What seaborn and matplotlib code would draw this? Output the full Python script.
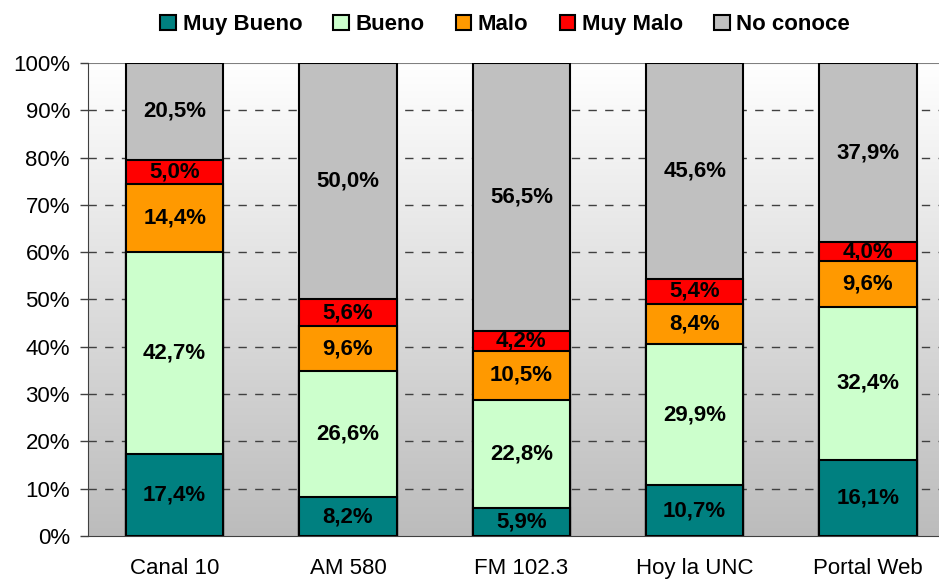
import numpy as np
import pandas as pd
import seaborn as sns
import matplotlib.pyplot as plt
from matplotlib.patches import Patch
from matplotlib.colors import LinearSegmentedColormap

medios = ['Canal 10', 'AM 580', 'FM 102.3', 'Hoy la UNC', 'Portal Web']
categorias = ['Muy Bueno', 'Bueno', 'Malo', 'Muy Malo', 'No conoce']
muy_bueno = [17.4, 8.2, 5.9, 10.7, 16.1]
bueno = [42.7, 26.6, 22.8, 29.9, 32.4]
malo = [14.4, 9.6, 10.5, 8.4, 9.6]
muy_malo = [5.0, 5.6, 4.2, 5.4, 4.0]
no_conoce = [20.5, 50.0, 56.5, 45.6, 37.9]
colores = ['#008080', '#CCFFCC', '#FF9900', '#FF0000', '#C0C0C0']

sns.set_style('white')
plt.rcParams['font.family'] = ['Liberation Sans', 'DejaVu Sans']
plt.rcParams['text.color'] = 'black'
plt.rcParams['xtick.color'] = 'black'
plt.rcParams['ytick.color'] = 'black'

df = pd.DataFrame({'Medio': medios, 'Muy Bueno': muy_bueno, 'Bueno': bueno,
                   'Malo': malo, 'Muy Malo': muy_malo, 'No conoce': no_conoce})
acum = df[categorias].cumsum(axis=1)

fig = plt.figure(figsize=(9.39, 5.79), dpi=100)
ax = fig.add_axes([0.0937, 0.0743, 0.923, 0.817])

# gradient background, white on top to gray at the bottom
fondo = LinearSegmentedColormap.from_list('fondo', ['#ffffff', '#bcbcbc'])
grad = np.linspace(0, 1, 256).reshape(-1, 1)
ax.imshow(grad, extent=(-0.5, 4.5, 0, 100), aspect='auto', cmap=fondo,
          origin='upper', zorder=0)

# stacked bars: draw cumulative totals from the top down
for i in range(len(categorias) - 1, -1, -1):
    sns.barplot(x=df['Medio'], y=acum[categorias[i]], color=colores[i],
                edgecolor='black', linewidth=1.5, width=0.56, ax=ax,
                zorder=3, saturation=1)

for j in range(len(medios)):
    base = 0
    for c in categorias:
        v = df.loc[j, c]
        ax.text(j, base + v / 2, f'{v:.1f}%'.replace('.', ','), ha='center',
                va='center', fontsize=16, fontweight='bold', color='black',
                zorder=5)
        base += v

ax.set_xlim(-0.5, 4.5)
ax.set_ylim(0, 100)
ax.set_yticks(range(0, 101, 10))
ax.set_yticklabels([f'{t}%' for t in range(0, 101, 10)], fontsize=16)
ax.set_xticks(range(len(medios)))
ax.set_xticklabels(medios, fontsize=16)
ax.set_xticks(np.arange(-0.5, 4.6, 1), minor=True)
ax.tick_params(axis='x', which='major', length=0, pad=16)
ax.tick_params(axis='x', which='minor', length=5, color='#404040', width=1)
ax.tick_params(axis='y', length=6, color='#404040', width=1, pad=7, left=True)
ax.set_xlabel('')
ax.set_ylabel('')
for t in range(10, 100, 10):
    ax.axhline(t, color='#404040', linestyle=(0, (6, 6)), linewidth=1, zorder=1)
ax.axhline(100, color='#808080', linewidth=1.5, zorder=1)
for s in ['top', 'right']:
    ax.spines[s].set_visible(False)
ax.spines['left'].set_color('#404040')
ax.spines['bottom'].set_color('#404040')

handles = [Patch(facecolor=colores[i], edgecolor='black', linewidth=1.5,
                 label=categorias[i]) for i in range(len(categorias))]
fig.legend(handles=handles, loc='upper center', bbox_to_anchor=(0.538, 1.01),
           ncol=5, frameon=False, handlelength=0.7, handleheight=0.7,
           handletextpad=0.3, columnspacing=1.4,
           prop={'size': 16, 'weight': 'bold'})

fig.savefig('out.png', dpi=100)
